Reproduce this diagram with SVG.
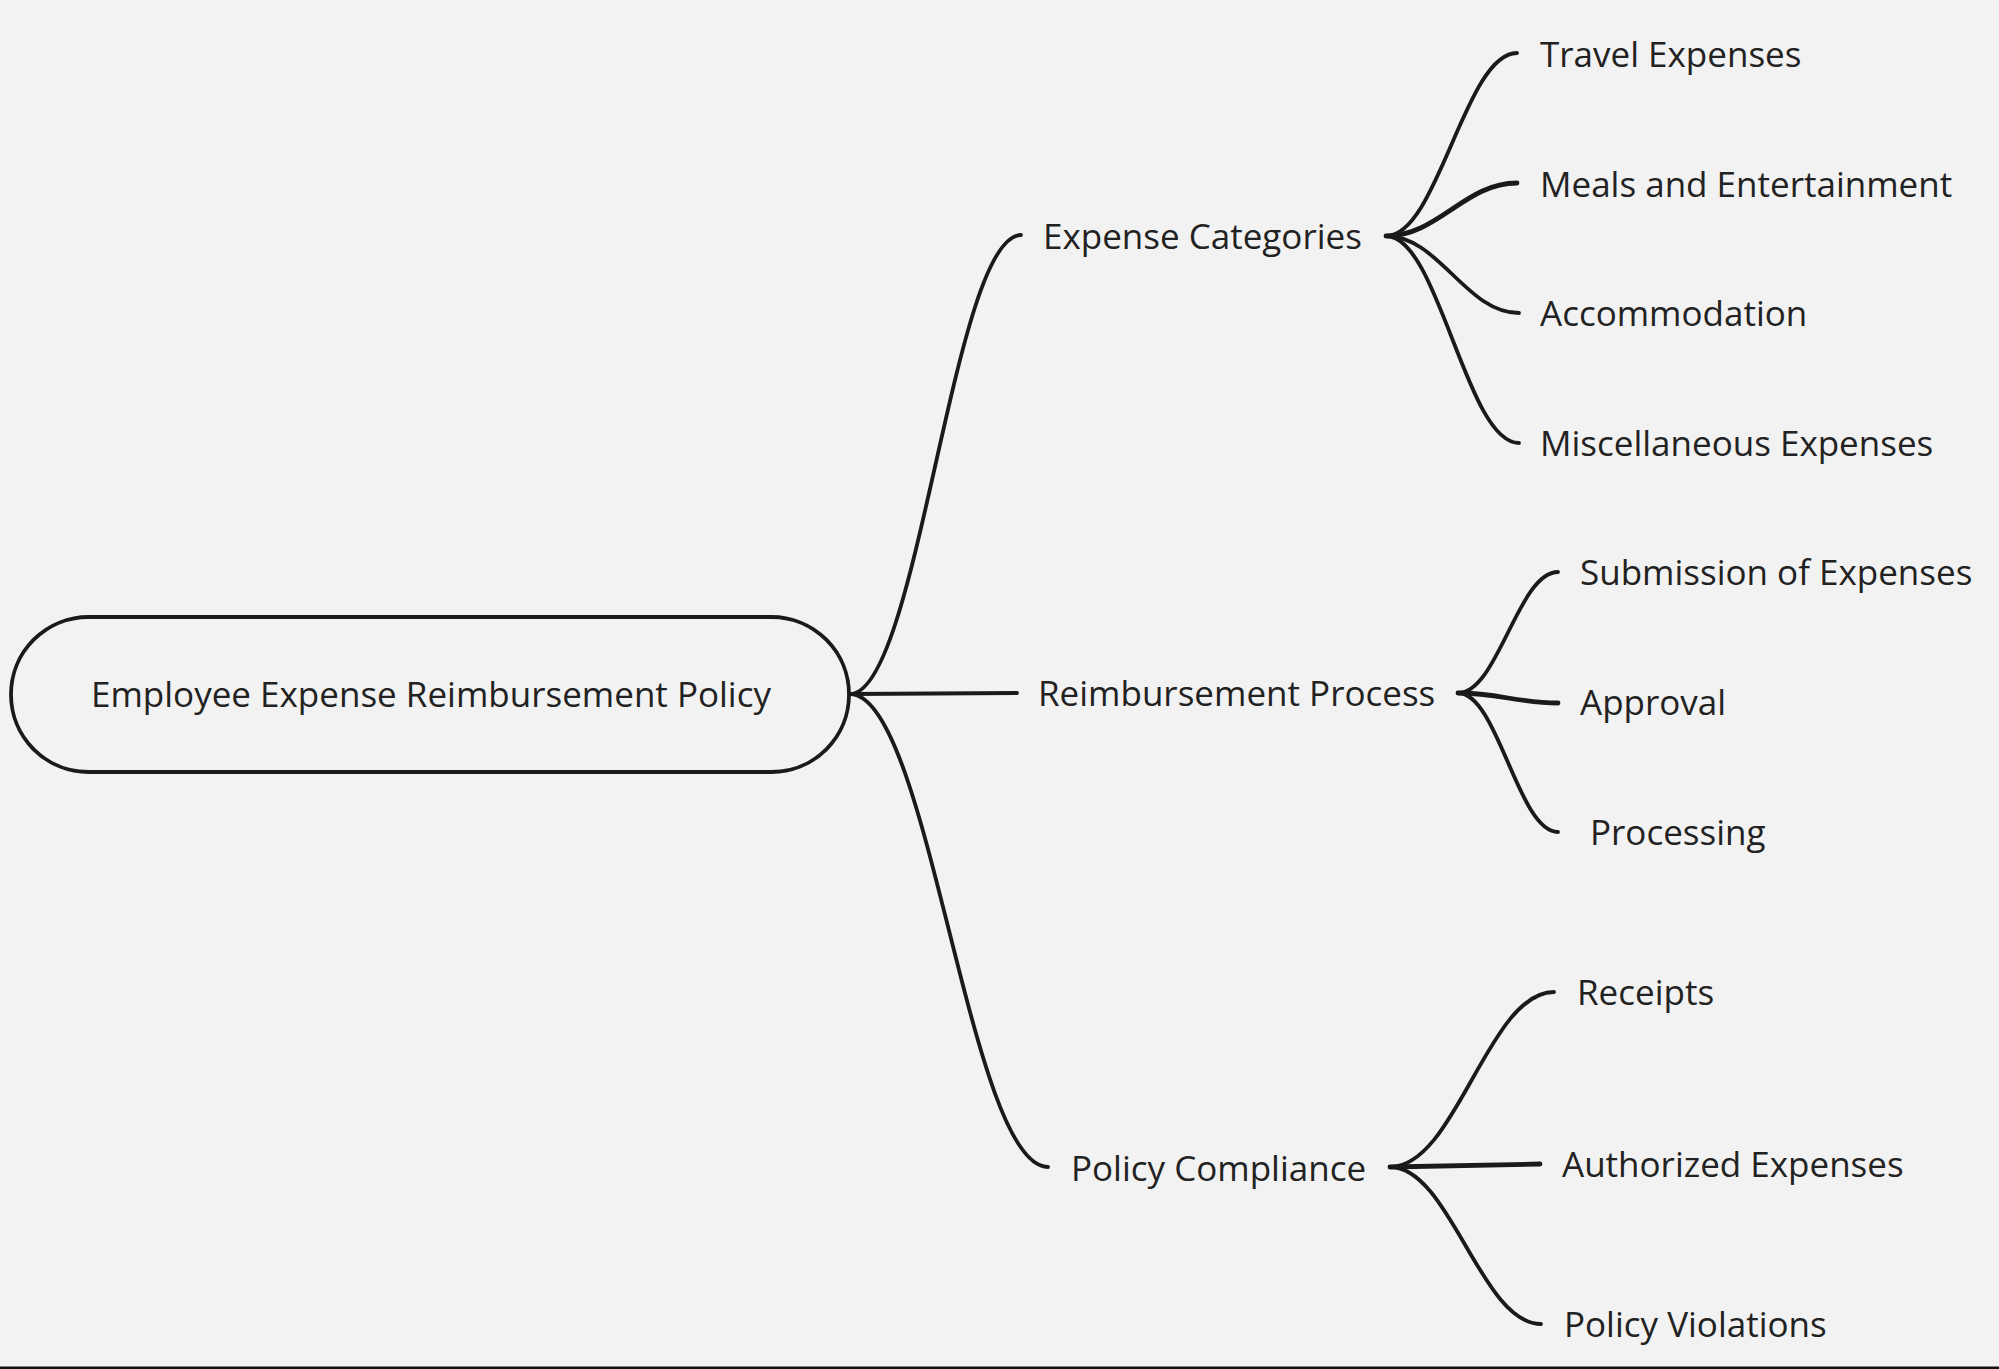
<svg xmlns="http://www.w3.org/2000/svg" width="1999" height="1369" viewBox="0 0 1999 1369">
<style>
.t{font-family:"Open Sans","Noto Sans","DejaVu Sans",sans-serif;font-size:35px;fill:#222}
.c{fill:none;stroke:#1a1a1a;stroke-width:3.8;stroke-linecap:round}
.c2{fill:none;stroke:#1a1a1a;stroke-width:4.8;stroke-linecap:round}
</style>
<rect width="1999" height="1369" fill="#f2f2f2"/>
<rect x="0" y="1366.5" width="1999" height="2.5" fill="#111"/>
<g id="connectors">
<path class="c" d="M850,694 C918,694 953,235 1021,235"/>
<path class="c" d="M850,694 L1017,693"/>
<path class="c" d="M850,694 C929,694 969,1167 1048,1167"/>
<path class="c" d="M1386,236 C1438,236 1465,53 1517,53"/>
<path class="c2" d="M1386,236 C1438,236 1465,183 1517,183"/>
<path class="c" d="M1386,236 C1439,236 1466,313 1519,313"/>
<path class="c" d="M1386,236 C1439,236 1466,443 1519,443"/>
<path class="c" d="M1458,693 C1498,693 1518,572 1558,572"/>
<path class="c2" d="M1458,693 C1498,693 1518,703 1558,703"/>
<path class="c" d="M1458,693 C1498,693 1518,832 1558,832"/>
<path class="c" d="M1390,1167 C1456,1167 1488,992 1554,992"/>
<path class="c2" d="M1390,1167 L1540,1164"/>
<path class="c" d="M1390,1167 C1450,1167 1481,1324 1541,1324"/>
</g>
<g id="root">
<rect x="11" y="617" width="838" height="155" rx="77.5" fill="none" stroke="#1a1a1a" stroke-width="3.8"/>
<text class="t" x="91" y="707">Employee Expense Reimbursement Policy</text>
</g>
<g id="expense-categories"><text class="t" x="1043" y="249">Expense Categories</text></g>
<g id="reimbursement-process"><text class="t" x="1038" y="706">Reimbursement Process</text></g>
<g id="policy-compliance"><text class="t" x="1071" y="1181">Policy Compliance</text></g>
<g id="travel-expenses"><text class="t" x="1540" y="67">Travel Expenses</text></g>
<g id="meals"><text class="t" x="1540" y="197">Meals and Entertainment</text></g>
<g id="accommodation"><text class="t" x="1540" y="326">Accommodation</text></g>
<g id="misc"><text class="t" x="1540" y="456">Miscellaneous Expenses</text></g>
<g id="submission"><text class="t" x="1580" y="585">Submission of Expenses</text></g>
<g id="approval"><text class="t" x="1580" y="715">Approval</text></g>
<g id="processing"><text class="t" x="1590" y="845">Processing</text></g>
<g id="receipts"><text class="t" x="1577" y="1005">Receipts</text></g>
<g id="authorized"><text class="t" x="1562" y="1177">Authorized Expenses</text></g>
<g id="violations"><text class="t" x="1564" y="1337">Policy Violations</text></g>
</svg>
